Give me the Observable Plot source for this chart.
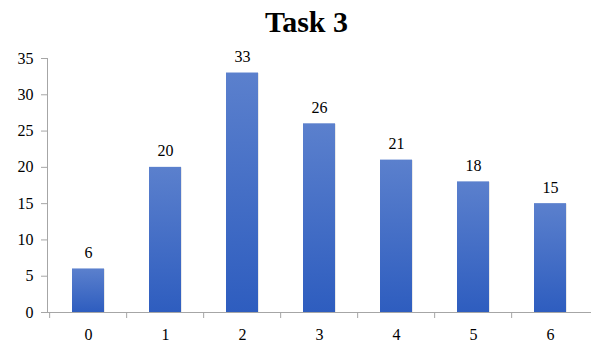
<!DOCTYPE html>
<html>
<head>
<meta charset="utf-8">
<script src="https://cdn.jsdelivr.net/npm/d3@7"></script>
<script src="https://cdn.jsdelivr.net/npm/@observablehq/plot@0.6"></script>
<style>
  html, body { margin: 0; padding: 0; background: #fff; }
  #title { font-family: "Liberation Serif", "Times New Roman", serif; font-weight: bold; font-size: 30px;
           line-height: 40px; height: 42px; padding-top: 2px; box-sizing: border-box; text-align: center;
           width: 591px; padding-left: 22px; color: #000; }
</style>
</head>
<body>
<div id="title">Task 3</div>
<div id="chart"></div>
<script>
const categories = ["0", "1", "2", "3", "4", "5", "6"];
const values = [6, 20, 33, 26, 21, 18, 15];
const yTicks = [0, 5, 10, 15, 20, 25, 30, 35];

const data = categories.map((c, i) => ({cat: c, value: values[i]}));

const W = 591, H = 300, mL = 47, mR = 0, mT = 16, mB = 30;
const step = (W - mL - mR) / categories.length;

const plot = Plot.plot({
  width: W,
  height: H,
  marginLeft: mL,
  marginRight: mR,
  marginTop: mT,
  marginBottom: mB,
  style: {fontFamily: "'Liberation Serif', 'Times New Roman', serif", fontSize: "16px", color: "#000", background: "#fff"},
  x: {domain: categories, paddingInner: 0.588, paddingOuter: 0.294, axis: null, label: null},
  y: {domain: [0, 35], axis: null, label: null},
  marks: [
    Plot.barY(data, {x: "cat", y: "value", fill: "#d4d4d4", dx: 1, dy: 0.5, opacity: 0.5, insetLeft: -1}),
    Plot.barY(data, {x: "cat", y: "value", fill: "url(#barGrad)"}),
    Plot.ruleY([0], {stroke: "#a6a6a6", strokeWidth: 1}),
    Plot.tickX(categories, {x: d => d, dx: -step / 2, dy: 6, insetTop: H - mT - mB - 6, stroke: "#a6a6a6"}),
    Plot.axisX({tickSize: 0, tickPadding: 16, fill: "#000", fontSize: 16, label: null}),
    Plot.axisY({ticks: yTicks, tickSize: 6, tickPadding: 8, stroke: "#a6a6a6", fill: "#000", fontSize: 16, label: null}),
    Plot.frame({anchor: "left", stroke: "#a6a6a6"}),
    Plot.text(data, {x: "cat", y: "value", text: d => String(d.value), dy: -16, fill: "#000", fontSize: 16})
  ]
});

const defs = d3.create("svg:defs");
const g = defs.append("linearGradient").attr("id", "barGrad").attr("x1", 0).attr("y1", 0).attr("x2", 0).attr("y2", 1);
g.append("stop").attr("offset", "0%").attr("stop-color", "#5b80cd");
g.append("stop").attr("offset", "100%").attr("stop-color", "#2e5dbf");
plot.insertBefore(defs.node(), plot.firstChild);

document.getElementById("chart").appendChild(plot);
</script>
</body>
</html>
